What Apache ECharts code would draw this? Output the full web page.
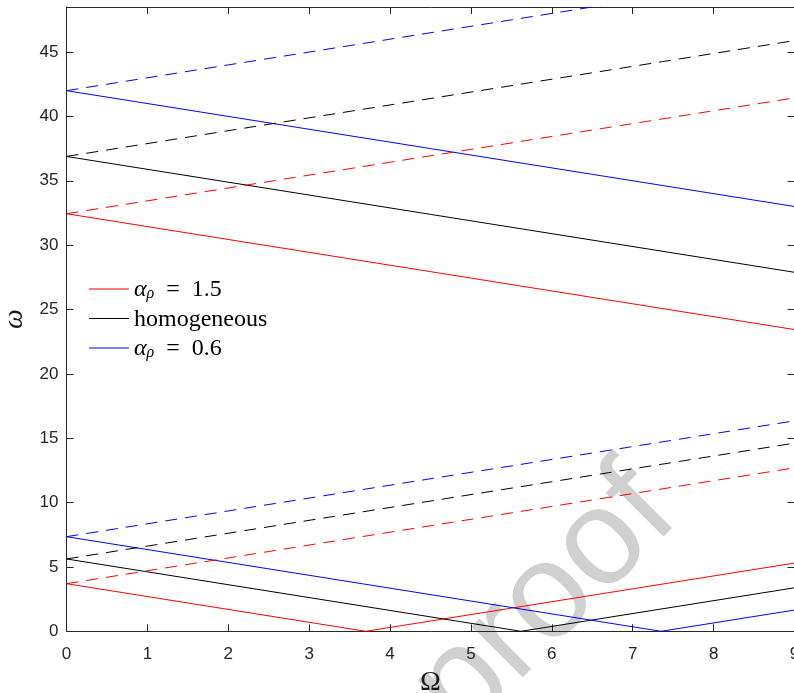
<!DOCTYPE html>
<html>
<head>
<meta charset="utf-8">
<script src="https://cdn.jsdelivr.net/npm/echarts@6/dist/echarts.min.js"></script>
<style>
  html, body { margin: 0; padding: 0; background: #ffffff; }
  #chart { width: 794px; height: 693px; }
</style>
</head>
<body>
<div id="chart"></div>
<script>
// Frequency branches ω plotted against Ω, three density ratios.
// Every branch is given by its vertices (Ω, ω).
const xTicks = [0, 1, 2, 3, 4, 5, 6, 7, 8, 9];
const yTicks = [0, 5, 10, 15, 20, 25, 30, 35, 40, 45];

// lower pair of branches
const redLowSolid    = [[0, 3.70], [3.70, 0], [9, 5.30]];
const redLowDashed   = [[0, 3.70], [9, 12.70]];
const blackLowSolid  = [[0, 5.62], [5.62, 0], [9, 3.38]];
const blackLowDashed = [[0, 5.62], [9, 14.62]];
const blueLowSolid   = [[0, 7.35], [7.35, 0], [9, 1.65]];
const blueLowDashed  = [[0, 7.35], [9, 16.35]];

// upper pair of branches
const redHighSolid    = [[0, 32.44], [9, 23.44]];
const redHighDashed   = [[0, 32.44], [9, 41.44]];
const blackHighSolid  = [[0, 36.89], [9, 27.89]];
const blackHighDashed = [[0, 36.89], [9, 45.89]];
const blueHighSolid   = [[0, 42.00], [9, 33.00]];
const blueHighDashed  = [[0, 42.00], [9, 51.00]];

const legendNames = ['rho15', 'homog', 'rho06'];
const legendText = {
  rho15: '{a|α}{s|ρ}{t|\u2002=\u20021.5}',
  homog: '{t|homogeneous}',
  rho06: '{a|α}{s|ρ}{t|\u2002=\u20020.6}'
};

const RED = '#ff0000', BLACK = '#000000', BLUE = '#0000ff';
const DASH = [12, 8];

function branch(name, data, color, dashed) {
  return {
    name: name,
    type: 'line',
    data: data,
    symbol: 'none',
    silent: true,
    animation: false,
    clip: true,
    z: 3,
    lineStyle: { color: color, width: 1, type: dashed ? DASH : 'solid' },
    itemStyle: { color: color }
  };
}

const series = [
  branch('rho15', redLowSolid, RED, false),
  branch('homog', blackLowSolid, BLACK, false),
  branch('rho06', blueLowSolid, BLUE, false),
  branch('rho15-d', redLowDashed, RED, true),
  branch('homog-d', blackLowDashed, BLACK, true),
  branch('rho06-d', blueLowDashed, BLUE, true),
  branch('rho15-u', redHighSolid, RED, false),
  branch('homog-u', blackHighSolid, BLACK, false),
  branch('rho06-u', blueHighSolid, BLUE, false),
  branch('rho15-ud', redHighDashed, RED, true),
  branch('homog-ud', blackHighDashed, BLACK, true),
  branch('rho06-ud', blueHighDashed, BLUE, true)
];

const AX = '#262626';
const tickFont = { color: AX, fontFamily: '"Liberation Sans", Arial, sans-serif', fontSize: 17 };
const serif = '"Liberation Serif", "Times New Roman", serif';

function frameAxis(extra) {
  return Object.assign({
    type: 'value',
    z: 2,
    axisLine: { show: true, onZero: false, lineStyle: { color: AX, width: 1 } },
    axisTick: { show: true, inside: true, length: 7, lineStyle: { color: AX } },
    splitLine: { show: false }
  }, extra);
}

const chart = echarts.init(document.getElementById('chart'), null, { renderer: 'canvas' });
chart.setOption({
  animation: false,
  backgroundColor: '#ffffff',
  grid: { left: 66.5, top: 7, width: 728, height: 624.3, containLabel: false, outerBoundsMode: 'none' },
  legend: {
    data: legendNames,
    orient: 'vertical',
    left: 89,
    top: 276,
    padding: 0,
    icon: 'rect',
    itemWidth: 40,
    itemHeight: 1,
    itemGap: 3.5,
    selectedMode: false,
    formatter: function (n) { return legendText[n]; },
    textStyle: {
      color: '#000000',
      lineHeight: 26,
      rich: {
        a: { fontFamily: serif, fontStyle: 'italic', fontSize: 24, lineHeight: 26, verticalAlign: 'bottom', color: '#000' },
        s: { fontFamily: serif, fontStyle: 'italic', fontSize: 16, lineHeight: 15, verticalAlign: 'bottom', color: '#000' },
        t: { fontFamily: serif, fontSize: 24, lineHeight: 26, verticalAlign: 'bottom', color: '#000' }
      }
    }
  },
  xAxis: [
    frameAxis({
      min: xTicks[0], max: xTicks[xTicks.length - 1], interval: 1,
      name: 'Ω', nameLocation: 'middle', nameGap: 33,
      nameTextStyle: { fontFamily: serif, fontSize: 28, color: '#1a1a1a' },
      axisLabel: Object.assign({ margin: 15 }, tickFont)
    }),
    frameAxis({
      position: 'top', min: xTicks[0], max: xTicks[xTicks.length - 1], interval: 1,
      axisLabel: { show: false }
    })
  ],
  yAxis: [
    frameAxis({
      min: yTicks[0], max: 48.5, interval: 5,
      name: 'ω', nameLocation: 'middle', nameRotate: 90, nameGap: 36,
      nameTextStyle: { fontFamily: serif, fontStyle: 'italic', fontSize: 28, color: '#1a1a1a' },
      axisLabel: Object.assign({
        margin: 8, showMaxLabel: false,
        formatter: function (v) { return yTicks.indexOf(v) >= 0 ? String(v) : ''; }
      }, tickFont)
    }),
    frameAxis({
      position: 'right', min: yTicks[0], max: 48.5, interval: 5,
      axisLabel: { show: false }
    })
  ],
  graphic: {
    elements: [{
      type: 'text',
      x: 436, y: 711,
      rotation: Math.PI / 4,
      silent: true,
      z: -10,
      style: {
        text: 'proof',
        fill: '#d0d0d0',
        fontFamily: '"Liberation Sans", Arial, sans-serif',
        fontSize: 136,
        align: 'left',
        verticalAlign: 'middle'
      }
    }]
  },
  series: series
});
</script>
</body>
</html>
